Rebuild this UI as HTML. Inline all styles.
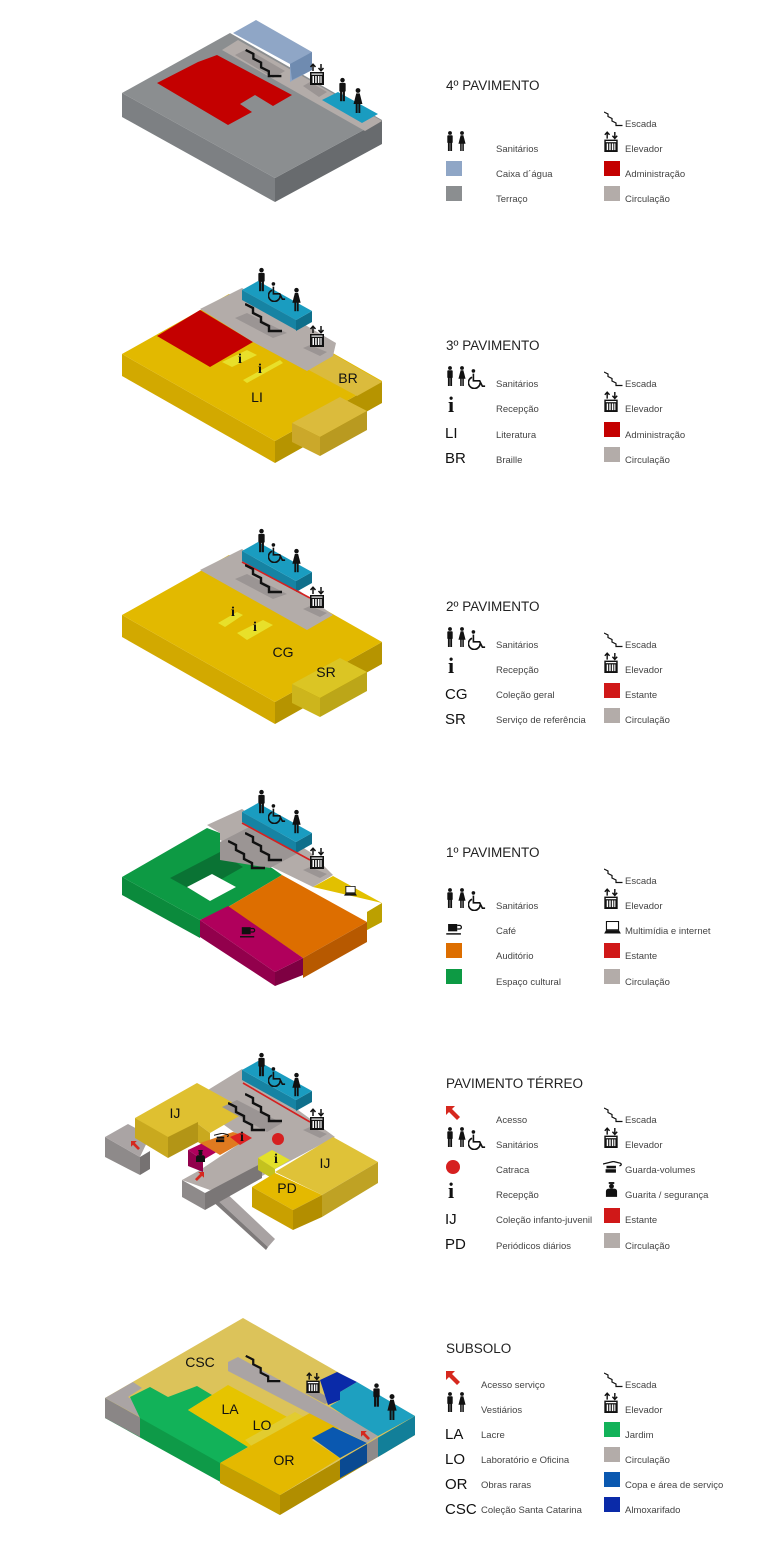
<!DOCTYPE html>
<html><head><meta charset="utf-8"><style>
html,body{margin:0;padding:0;background:#fff}
svg{display:block}
.t{font-family:"Liberation Sans",sans-serif;font-size:9.5px;fill:#444}
.h{font-family:"Liberation Sans",sans-serif;font-size:13.5px;fill:#222}
.ab{font-family:"Liberation Sans",sans-serif;font-size:15px;fill:#111}
.lb{font-family:"Liberation Sans",sans-serif;font-size:14px;fill:#111}
.i{font-family:"Liberation Serif",serif;font-weight:bold;fill:#111}
</style></head><body>
<svg width="768" height="1542" viewBox="0 0 768 1542" xmlns="http://www.w3.org/2000/svg">
<defs>
<symbol id="man" viewBox="0 0 10 26"><circle cx="5" cy="2.6" r="2.5" fill="#111"/><rect x="1.5" y="5.6" width="7" height="10" rx="1.2" fill="#111"/><rect x="2.3" y="14" width="2.4" height="12" fill="#111"/><rect x="5.3" y="14" width="2.4" height="12" fill="#111"/></symbol>
<symbol id="woman" viewBox="0 0 10 26"><circle cx="5" cy="2.6" r="2.5" fill="#111"/><path d="M3.2 5.6h3.6l2.8 11H0.4z" fill="#111"/><rect x="2.6" y="16" width="2" height="10" fill="#111"/><rect x="5.4" y="16" width="2" height="10" fill="#111"/></symbol>
<symbol id="wc" viewBox="0 0 20 22"><circle cx="6" cy="2" r="2" fill="#111"/><path d="M6 5v8h7l3 6h3" fill="none" stroke="#111" stroke-width="1.8"/><path d="M4.5 9a6.5 6.5 0 1 0 9 6" fill="none" stroke="#111" stroke-width="1.8"/></symbol>
<symbol id="stair" viewBox="0 0 38 30"><polyline points="0,1 8,5 8,10 16,14 16,19 24,23 24,28 37,28" fill="none" stroke="#111" stroke-width="2.4"/></symbol>
<symbol id="elev" viewBox="0 0 14 22"><path d="M3 8V1.5M0.5 4L3 1.2 5.5 4M11 1v6.5M8.5 5L11 7.8 13.5 5" fill="none" stroke="#111" stroke-width="1.5"/><rect x="0" y="9" width="14" height="13" fill="#111"/><rect x="1.5" y="10.5" width="11" height="1.2" fill="#fff"/><rect x="2.5" y="13" width="1.5" height="7" fill="#fff"/><rect x="5.2" y="13" width="1.5" height="7" fill="#fff"/><rect x="7.9" y="13" width="1.5" height="7" fill="#fff"/><rect x="10.4" y="13" width="1.2" height="7" fill="#fff"/></symbol>
<symbol id="arrow" viewBox="0 0 14 14"><path d="M0 0h9l-3 3 8 8-3 3-8-8-3 3z" fill="#d6281e"/></symbol>
<symbol id="cup" viewBox="0 0 18 12"><rect x="2" y="0" width="10" height="8" fill="#111"/><path d="M12 1.5h2.5a2 2 0 0 1 0 4H12" fill="none" stroke="#111" stroke-width="1.4"/><rect x="0" y="10" width="16" height="1.6" fill="#111"/></symbol>
<symbol id="lap" viewBox="0 0 18 14"><rect x="2.5" y="0.5" width="13" height="9" fill="#fff" stroke="#111" stroke-width="1.2"/><path d="M0 13.5h18l-2-3.5H2z" fill="#111"/></symbol>
<symbol id="guard" viewBox="0 0 14 16"><rect x="4" y="0" width="6" height="2" fill="#111"/><circle cx="7" cy="4.5" r="2.6" fill="#111"/><path d="M1 16v-6a3 3 0 0 1 3-3h6a3 3 0 0 1 3 3v6z" fill="#111"/></symbol>
<symbol id="bag" viewBox="0 0 22 14"><path d="M0 3l12-3 8 2c2 1 1 3-1 3" fill="none" stroke="#111" stroke-width="1.5"/><rect x="4" y="5" width="11" height="3" fill="#111"/><rect x="3" y="9" width="12" height="4" fill="#111"/></symbol>
</defs>

<!-- ================= 4º PAVIMENTO ================= -->
<polygon points="122,93 275,178 275,202 122,117" fill="#7d8083"/>
<polygon points="275,178 382,120 382,144 275,202" fill="#686b6e"/>
<polygon points="122,93 230,33 382,120 275,178" fill="#8b8e90"/>
<polygon points="222,50 238,40 382,121 365,131" fill="#b3aca9"/>
<polygon points="233,33 256,20 312,52 312,70 290,82 290,64" fill="#8fa6c6"/>
<polygon points="290,64 312,52 312,70 292,80" fill="#6f8bb0"/>
<polygon points="235,55 247,49 285,71 273,78" fill="#9b9594"/>
<polygon points="303,86 310,82 327,92 319,97" fill="#9b9594"/>
<polygon points="322,100 338,92 378,114 362,123" fill="#1a9cc0"/>
<polygon points="157,83 198,62 217,55 292,95 273,106 255,95 240,104 252,112 228,125" fill="#c40000"/>
<use href="#stair" x="245" y="49" width="38" height="29"/>
<use href="#elev" x="310" y="63" width="14" height="22"/>
<use href="#man" x="338" y="77" width="9" height="25"/>
<use href="#woman" x="353" y="88" width="10" height="25"/>

<text x="446" y="90" class="h">4º PAVIMENTO</text>
<use href="#stair" x="604" y="111" width="19" height="16"/><text x="625" y="127" class="t">Escada</text>
<use href="#man" x="446" y="131" width="8" height="20"/><use href="#woman" x="458" y="131" width="8" height="20"/>
<text x="496" y="152" class="t">Sanitários</text>
<use href="#elev" x="604" y="131" width="14" height="21"/><text x="625" y="152" class="t">Elevador</text>
<rect x="446" y="161" width="16" height="15" fill="#8fa6c6"/><text x="496" y="177" class="t">Caixa d´água</text>
<rect x="604" y="161" width="16" height="15" fill="#c40000"/><text x="625" y="177" class="t">Administração</text>
<rect x="446" y="186" width="16" height="15" fill="#8b8e90"/><text x="496" y="202" class="t">Terraço</text>
<rect x="604" y="186" width="16" height="15" fill="#b3aca9"/><text x="625" y="202" class="t">Circulação</text>

<!-- ================= 3º PAVIMENTO ================= -->
<polygon points="122,354 275,441 275,463 122,376" fill="#d2a900"/>
<polygon points="275,441 382,381 382,403 275,463" fill="#b69400"/>
<polygon points="122,354 229,294 382,381 275,441" fill="#e2b900"/>
<polygon points="305,368 333,354 382,382 357,396" fill="#dbbb3c"/>
<polygon points="292,423 340,397 367,411 320,437" fill="#dbbb3c"/>
<polygon points="320,437 367,411 367,430 320,456" fill="#b99a20"/>
<polygon points="292,423 320,437 320,456 292,442" fill="#cba82a"/>
<polygon points="157,336 200,310 253,342 210,367" fill="#c40000"/>
<polygon points="200,309 242,288 336,343 333,356 307,371 253,342" fill="#b3aca9"/>
<polygon points="235,318 247,313 287,333 273,338" fill="#9b9594"/>
<polygon points="303,348 310,345 327,352 320,356" fill="#9b9594"/>
<polygon points="242,300 296,330 296,320 242,290" fill="#1683a3"/>
<polygon points="296,320 312,311 312,322 296,331" fill="#0f6f8b"/>
<polygon points="242,290 258,281 312,311 296,320" fill="#1a9cc0"/>
<polygon points="222,362 247,350 257,355 232,367" fill="#e8e02a"/>
<polygon points="243,380 280,360 283,363 247,383" fill="#e8e02a"/>
<use href="#stair" x="245" y="303" width="38" height="30"/>
<use href="#elev" x="310" y="325" width="14" height="22"/>
<use href="#man" x="257" y="267" width="9" height="25"/>
<use href="#wc" x="268" y="282" width="18" height="20"/>
<use href="#woman" x="292" y="287" width="9" height="25"/>
<text x="240" y="363" class="i" font-size="14" text-anchor="middle">i</text>
<text x="260" y="373" class="i" font-size="14" text-anchor="middle">i</text>
<text x="257" y="402" class="lb" text-anchor="middle">LI</text>
<text x="348" y="383" class="lb" text-anchor="middle">BR</text>

<text x="446" y="350" class="h">3º PAVIMENTO</text>
<use href="#man" x="446" y="366" width="8" height="20"/><use href="#woman" x="458" y="366" width="8" height="20"/><use href="#wc" x="468" y="369" width="18" height="20"/>
<text x="496" y="387" class="t">Sanitários</text>
<use href="#stair" x="604" y="371" width="19" height="16"/><text x="625" y="387" class="t">Escada</text>
<text x="451" y="412" class="i" font-size="22" text-anchor="middle">i</text><text x="496" y="412" class="t">Recepção</text>
<use href="#elev" x="604" y="391" width="14" height="21"/><text x="625" y="412" class="t">Elevador</text>
<text x="445" y="438" class="ab">LI</text><text x="496" y="438" class="t">Literatura</text>
<rect x="604" y="422" width="16" height="15" fill="#c40000"/><text x="625" y="438" class="t">Administração</text>
<text x="445" y="463" class="ab">BR</text><text x="496" y="463" class="t">Braille</text>
<rect x="604" y="447" width="16" height="15" fill="#b3aca9"/><text x="625" y="463" class="t">Circulação</text>

<!-- ================= 2º PAVIMENTO ================= -->
<polygon points="122,615 275,702 275,724 122,637" fill="#d2a900"/>
<polygon points="275,702 382,642 382,664 275,724" fill="#b69400"/>
<polygon points="122,615 229,555 382,642 275,702" fill="#e2b900"/>
<polygon points="292,684 340,658 367,672 320,698" fill="#dbc524"/>
<polygon points="320,698 367,672 367,691 320,717" fill="#bca618"/>
<polygon points="292,684 320,698 320,717 292,703" fill="#cdb51c"/>
<polygon points="200,570 242,549 333,615 307,630" fill="#b3aca9"/>
<polygon points="235,579 247,574 287,594 273,599" fill="#9b9594"/>
<polygon points="303,609 310,606 327,613 320,617" fill="#9b9594"/>
<polygon points="242,561 296,591 296,581 242,551" fill="#1683a3"/>
<polygon points="296,581 312,572 312,583 296,592" fill="#0f6f8b"/>
<polygon points="242,551 258,542 312,572 296,581" fill="#1a9cc0"/>
<line x1="242" y1="562" x2="310" y2="598" stroke="#d42020" stroke-width="1.6"/>
<polygon points="218,623 237,612 243,615 225,627" fill="#e8e02a"/>
<polygon points="237,633 263,620 273,625 247,640" fill="#e8e02a"/>
<use href="#stair" x="245" y="564" width="38" height="30"/>
<use href="#elev" x="310" y="586" width="14" height="22"/>
<use href="#man" x="257" y="528" width="9" height="25"/>
<use href="#wc" x="268" y="543" width="18" height="20"/>
<use href="#woman" x="292" y="548" width="9" height="25"/>
<text x="233" y="616" class="i" font-size="14" text-anchor="middle">i</text>
<text x="255" y="631" class="i" font-size="14" text-anchor="middle">i</text>
<text x="283" y="657" class="lb" text-anchor="middle">CG</text>
<text x="326" y="677" class="lb" text-anchor="middle">SR</text>

<text x="446" y="611" class="h">2º PAVIMENTO</text>
<use href="#man" x="446" y="627" width="8" height="20"/><use href="#woman" x="458" y="627" width="8" height="20"/><use href="#wc" x="468" y="630" width="18" height="20"/>
<text x="496" y="648" class="t">Sanitários</text>
<use href="#stair" x="604" y="632" width="19" height="16"/><text x="625" y="648" class="t">Escada</text>
<text x="451" y="673" class="i" font-size="22" text-anchor="middle">i</text><text x="496" y="673" class="t">Recepção</text>
<use href="#elev" x="604" y="652" width="14" height="21"/><text x="625" y="673" class="t">Elevador</text>
<text x="445" y="699" class="ab">CG</text><text x="496" y="698" class="t">Coleção geral</text>
<rect x="604" y="683" width="16" height="15" fill="#d01818"/><text x="625" y="698" class="t">Estante</text>
<text x="445" y="724" class="ab">SR</text><text x="496" y="723" class="t">Serviço de referência</text>
<rect x="604" y="708" width="16" height="15" fill="#b3aca9"/><text x="625" y="723" class="t">Circulação</text>

<!-- ================= 1º PAVIMENTO ================= -->
<polygon points="122,877 200,920 200,938 122,895" fill="#0b8a3c"/>
<polygon points="122,877 207,828 220,833 220,848 272,868 282,875 228,907 200,920" fill="#0d9a44"/>
<polygon points="170,878 220,852 243,867 197,893" fill="#0a7334"/>
<polygon points="187,887 212,874 236,887 210,901" fill="#ffffff"/>
<polygon points="207,825 242,809 310,852 333,875 313,887 272,867 220,840 220,833" fill="#b3aca9"/>
<polygon points="220,842 255,824 300,852 270,868 220,860" fill="#9b9594"/>
<polygon points="313,887 333,876 382,903 367,912 367,930 382,922 382,903" fill="#e2c000"/>
<polygon points="367,912 382,903 382,922 367,930" fill="#bca000"/>
<polygon points="228,907 282,875 367,922 303,958" fill="#dd6e00"/>
<polygon points="303,958 367,922 367,942 303,978" fill="#b75900"/>
<polygon points="200,920 228,906 303,958 275,972" fill="#b0005c"/>
<polygon points="200,920 275,972 275,986 200,937" fill="#92004c"/>
<polygon points="275,972 303,958 303,975 275,986" fill="#7e0042"/>
<polygon points="303,870 310,867 327,874 320,878" fill="#9b9594"/>
<polygon points="242,822 296,852 296,842 242,812" fill="#1683a3"/>
<polygon points="296,842 312,833 312,844 296,853" fill="#0f6f8b"/>
<polygon points="242,812 258,803 312,833 296,842" fill="#1a9cc0"/>
<line x1="242" y1="823" x2="310" y2="860" stroke="#d42020" stroke-width="1.6"/>
<use href="#stair" x="228" y="840" width="38" height="30"/>
<use href="#stair" x="245" y="832" width="38" height="30"/>
<use href="#elev" x="310" y="847" width="14" height="22"/>
<use href="#man" x="257" y="789" width="9" height="25"/>
<use href="#wc" x="268" y="804" width="18" height="20"/>
<use href="#woman" x="292" y="809" width="9" height="25"/>
<use href="#cup" x="240" y="927" width="16" height="11"/>
<use href="#lap" x="344" y="886" width="13" height="10"/>

<text x="446" y="857" class="h">1º PAVIMENTO</text>
<use href="#stair" x="604" y="868" width="19" height="16"/><text x="625" y="884" class="t">Escada</text>
<use href="#man" x="446" y="888" width="8" height="20"/><use href="#woman" x="458" y="888" width="8" height="20"/><use href="#wc" x="468" y="891" width="18" height="20"/>
<text x="496" y="909" class="t">Sanitários</text>
<use href="#elev" x="604" y="888" width="14" height="21"/><text x="625" y="909" class="t">Elevador</text>
<use href="#cup" x="446" y="924" width="17" height="11"/><text x="496" y="934" class="t">Café</text>
<use href="#lap" x="604" y="921" width="17" height="13"/><text x="625" y="934" class="t">Multimídia e internet</text>
<rect x="446" y="943" width="16" height="15" fill="#dd6e00"/><text x="496" y="959" class="t">Auditório</text>
<rect x="604" y="943" width="16" height="15" fill="#d01818"/><text x="625" y="959" class="t">Estante</text>
<rect x="446" y="969" width="16" height="15" fill="#0d9a44"/><text x="496" y="985" class="t">Espaço cultural</text>
<rect x="604" y="969" width="16" height="15" fill="#b3aca9"/><text x="625" y="985" class="t">Circulação</text>

<!-- ================= TÉRREO ================= -->
<polygon points="212,1195 222,1189 275,1239 268,1247" fill="#a8a2a2"/>
<polygon points="212,1195 268,1247 266,1250 210,1199" fill="#7e7a7a"/>
<polygon points="105,1137 140,1157 140,1175 105,1157" fill="#8e8a8a"/>
<polygon points="140,1157 150,1151 150,1169 140,1175" fill="#767272"/>
<polygon points="105,1137 128,1124 150,1136 140,1157" fill="#aaa4a4"/>
<polygon points="190,1101 242,1069 335,1137 262,1176 210,1190 182,1180 200,1170 245,1140 220,1122" fill="#b3aca9"/>
<polygon points="182,1180 205,1193 205,1210 182,1197" fill="#8e8a8a"/>
<polygon points="205,1193 262,1163 262,1178 205,1210" fill="#7a7676"/>
<polygon points="135,1118 197,1083 248,1111 210,1133 198,1124 168,1138" fill="#dfc030"/>
<polygon points="135,1118 168,1137 168,1158 135,1138" fill="#c9a91e"/>
<polygon points="168,1137 198,1122 198,1142 168,1158" fill="#b39516"/>
<polygon points="198,1124 210,1133 210,1150 198,1142" fill="#c9a91e"/>
<polygon points="188,1150 205,1142 220,1150 203,1160" fill="#b0005c"/>
<polygon points="188,1150 203,1160 203,1172 188,1166" fill="#92004c"/>
<polygon points="200,1143 233,1132 250,1138 220,1155" fill="#e07a20"/>
<polygon points="230,1137 242,1132 252,1138 240,1145" fill="#dd2222"/>
<polygon points="222,1107 237,1100 282,1123 267,1132" fill="#9b9594"/>
<polygon points="303,1130 310,1127 327,1134 320,1138" fill="#9b9594"/>
<polygon points="275,1172 333,1137 378,1162 322,1195" fill="#dfc238"/>
<polygon points="322,1195 378,1162 378,1183 322,1217" fill="#bfa224"/>
<polygon points="258,1158 272,1150 290,1160 275,1169" fill="#e3e02a"/>
<polygon points="258,1158 275,1169 275,1180 258,1170" fill="#c4c21e"/>
<polygon points="252,1187 275,1173 322,1195 293,1210" fill="#e4b900"/>
<polygon points="252,1187 293,1210 293,1230 252,1207" fill="#c9a000"/>
<polygon points="293,1210 322,1195 322,1217 293,1230" fill="#b38e00"/>
<polygon points="242,1080 296,1110 296,1100 242,1070" fill="#1683a3"/>
<polygon points="296,1100 312,1091 312,1102 296,1111" fill="#0f6f8b"/>
<polygon points="242,1070 258,1061 312,1091 296,1100" fill="#1a9cc0"/>
<line x1="243" y1="1083" x2="310" y2="1122" stroke="#d42020" stroke-width="1.6"/>
<circle cx="278" cy="1139" r="6" fill="#d62020"/>
<use href="#stair" x="228" y="1102" width="38" height="30"/>
<use href="#stair" x="245" y="1093" width="38" height="30"/>
<use href="#elev" x="310" y="1108" width="14" height="22"/>
<use href="#man" x="257" y="1052" width="9" height="25"/>
<use href="#wc" x="268" y="1067" width="18" height="20"/>
<use href="#woman" x="292" y="1072" width="9" height="25"/>
<use href="#bag" x="214" y="1133" width="15" height="10"/>
<use href="#guard" x="195" y="1150" width="11" height="12"/>
<text x="242" y="1141" class="i" font-size="14" text-anchor="middle">i</text>
<text x="276" y="1163" class="i" font-size="14" text-anchor="middle">i</text>
<use href="#arrow" x="131" y="1141" width="9" height="9"/>
<use href="#arrow" x="195" y="1172" width="9" height="9" transform="rotate(90 199.5 1176.5)"/>
<text x="175" y="1118" class="lb" text-anchor="middle">IJ</text>
<text x="325" y="1168" class="lb" text-anchor="middle">IJ</text>
<text x="287" y="1193" class="lb" text-anchor="middle">PD</text>

<text x="446" y="1088" class="h">PAVIMENTO TÉRREO</text>
<use href="#arrow" x="446" y="1106" width="14" height="14"/><text x="496" y="1123" class="t">Acesso</text>
<use href="#stair" x="604" y="1107" width="19" height="16"/><text x="625" y="1123" class="t">Escada</text>
<use href="#man" x="446" y="1127" width="8" height="20"/><use href="#woman" x="458" y="1127" width="8" height="20"/><use href="#wc" x="468" y="1130" width="18" height="20"/>
<text x="496" y="1148" class="t">Sanitários</text>
<use href="#elev" x="604" y="1127" width="14" height="21"/><text x="625" y="1148" class="t">Elevador</text>
<circle cx="453" cy="1167" r="7" fill="#d62020"/><text x="496" y="1173" class="t">Catraca</text>
<use href="#bag" x="603" y="1161" width="19" height="13"/><text x="625" y="1173" class="t">Guarda-volumes</text>
<text x="451" y="1198" class="i" font-size="22" text-anchor="middle">i</text><text x="496" y="1198" class="t">Recepção</text>
<use href="#guard" x="605" y="1182" width="13" height="15"/><text x="625" y="1198" class="t">Guarita / segurança</text>
<text x="445" y="1224" class="ab">IJ</text><text x="496" y="1223" class="t">Coleção infanto-juvenil</text>
<rect x="604" y="1208" width="16" height="15" fill="#d01818"/><text x="625" y="1223" class="t">Estante</text>
<text x="445" y="1249" class="ab">PD</text><text x="496" y="1249" class="t">Periódicos diários</text>
<rect x="604" y="1233" width="16" height="15" fill="#b3aca9"/><text x="625" y="1249" class="t">Circulação</text>

<!-- ================= SUBSOLO ================= -->
<polygon points="105,1398 280,1495 280,1515 105,1418" fill="#0e9a48"/>
<polygon points="105,1398 140,1417 140,1437 105,1418" fill="#8a8686"/>
<polygon points="220,1463 280,1495 280,1515 220,1483" fill="#c59e00"/>
<polygon points="280,1495 415,1416 415,1435 280,1515" fill="#b18e00"/>
<polygon points="340,1458 367,1443 367,1463 340,1478" fill="#0a4a92"/>
<polygon points="367,1443 378,1437 378,1457 367,1463" fill="#8e8a8a"/>
<polygon points="378,1437 415,1416 415,1435 378,1457" fill="#127f99"/>
<polygon points="105,1398 243,1318 415,1416 280,1495" fill="#dcc35a"/>
<polygon points="105,1398 133,1382 142,1388 128,1397 145,1407 140,1417" fill="#aaa4a4"/>
<polygon points="130,1397 150,1387 168,1397 197,1386 212,1395 188,1410 248,1447 220,1463 140,1418" fill="#12b259"/>
<polygon points="188,1410 228,1385 315,1432 290,1445 258,1452 248,1447" fill="#e6c400"/>
<polygon points="245,1440 295,1412 315,1423 258,1452" fill="#e2cc30"/>
<polygon points="220,1463 310,1413 340,1428 312,1440 340,1458 280,1495" fill="#e4b900"/>
<polygon points="312,1438 333,1427 367,1443 340,1458" fill="#0a58b0"/>
<polygon points="228,1362 238,1357 345,1416 378,1436 367,1443 330,1424 228,1371" fill="#aaa4a4"/>
<polygon points="305,1393 313,1389 333,1400 325,1404" fill="#9b9594"/>
<polygon points="320,1380 337,1372 357,1382 340,1392 340,1400 328,1405" fill="#0a2aa8"/>
<polygon points="330,1406 340,1400 340,1392 357,1382 415,1416 378,1436 345,1416" fill="#1ea0c0"/>
<use href="#stair" x="245" y="1355" width="37" height="28"/>
<use href="#elev" x="306" y="1372" width="14" height="21"/>
<use href="#man" x="372" y="1382" width="9" height="26"/>
<use href="#woman" x="387" y="1394" width="10" height="26"/>
<use href="#arrow" x="361" y="1431" width="9" height="9"/>
<text x="200" y="1367" class="lb" text-anchor="middle">CSC</text>
<text x="230" y="1414" class="lb" text-anchor="middle">LA</text>
<text x="262" y="1430" class="lb" text-anchor="middle">LO</text>
<text x="284" y="1465" class="lb" text-anchor="middle">OR</text>

<text x="446" y="1353" class="h">SUBSOLO</text>
<use href="#arrow" x="446" y="1371" width="14" height="14"/><text x="481" y="1388" class="t">Acesso serviço</text>
<use href="#stair" x="604" y="1372" width="19" height="16"/><text x="625" y="1388" class="t">Escada</text>
<use href="#man" x="446" y="1392" width="8" height="20"/><use href="#woman" x="458" y="1392" width="8" height="20"/>
<text x="481" y="1413" class="t">Vestiários</text>
<use href="#elev" x="604" y="1392" width="14" height="21"/><text x="625" y="1413" class="t">Elevador</text>
<text x="445" y="1439" class="ab">LA</text><text x="481" y="1438" class="t">Lacre</text>
<rect x="604" y="1422" width="16" height="15" fill="#12b259"/><text x="625" y="1438" class="t">Jardim</text>
<text x="445" y="1464" class="ab">LO</text><text x="481" y="1463" class="t">Laboratório e Oficina</text>
<rect x="604" y="1447" width="16" height="15" fill="#b3aca9"/><text x="625" y="1463" class="t">Circulação</text>
<text x="445" y="1489" class="ab">OR</text><text x="481" y="1488" class="t">Obras raras</text>
<rect x="604" y="1472" width="16" height="15" fill="#0a58b0"/><text x="625" y="1488" class="t">Copa e área de serviço</text>
<text x="445" y="1514" class="ab">CSC</text><text x="481" y="1513" class="t">Coleção Santa Catarina</text>
<rect x="604" y="1497" width="16" height="15" fill="#0a2aa8"/><text x="625" y="1513" class="t">Almoxarifado</text>
</svg>
</body></html>
